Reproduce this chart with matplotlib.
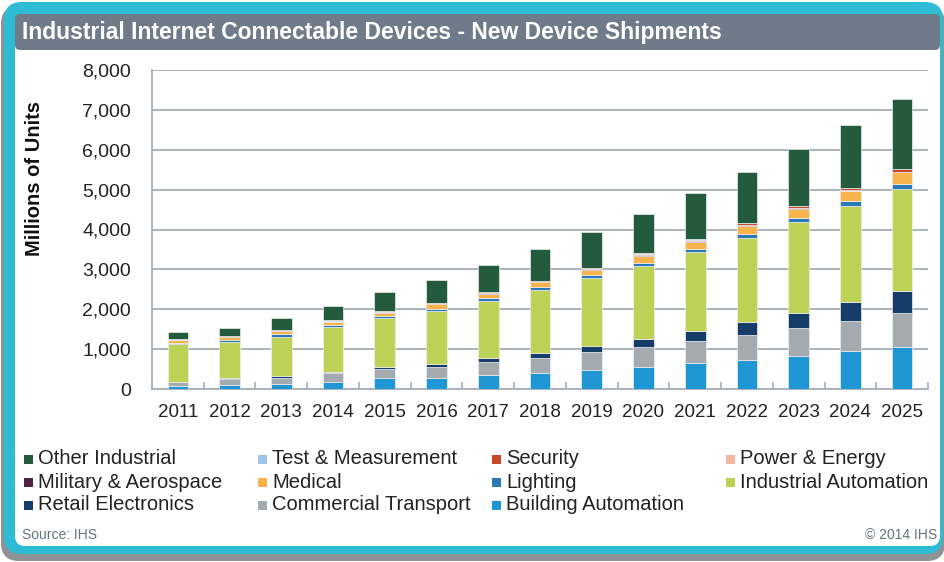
import matplotlib
matplotlib.use("Agg")
import matplotlib.pyplot as plt
from matplotlib.patches import FancyBboxPatch, Rectangle
from matplotlib.ticker import FuncFormatter
import numpy as np

plt.rcParams["font.family"] = ["Liberation Sans", "DejaVu Sans"]

# ---- data: new device shipments, millions of units ----
years = ["2011", "2012", "2013", "2014", "2015", "2016", "2017", "2018",
         "2019", "2020", "2021", "2022", "2023", "2024", "2025"]

building_automation = [70, 100, 128, 185, 268, 280, 351, 400, 484, 551, 644, 727, 835, 945, 1053]
commercial_transport = [100, 150, 158, 210, 233, 280, 326, 385, 435, 494, 551, 626, 695, 767, 852]
retail_electronics = [10, 15, 40, 42, 42, 67, 92, 125, 159, 200, 259, 317, 382, 460, 543]
industrial_automation = [940, 912, 985, 1120, 1228, 1320, 1436, 1571, 1696, 1838, 1972, 2122, 2268, 2414, 2565]
lighting = [42, 50, 60, 50, 67, 67, 75, 67, 75, 83, 75, 93, 100, 117, 125]
medical = [58, 67, 75, 75, 58, 108, 108, 125, 141, 175, 191, 215, 240, 260, 292]
military_aerospace = [5, 5, 6, 6, 7, 7, 8, 8, 9, 9, 10, 10, 11, 11, 12]
power_energy = [4, 5, 5, 6, 6, 7, 7, 8, 8, 9, 9, 10, 10, 11, 12]
security = [10, 15, 18, 20, 33, 20, 25, 25, 30, 35, 35, 40, 45, 50, 60]
test_measurement = [3, 3, 4, 4, 4, 5, 5, 5, 6, 6, 6, 7, 7, 8, 8]
other_industrial = [190, 214, 293, 370, 477, 563, 667, 781, 884, 994, 1152, 1279, 1422, 1590, 1746]

# stacking order, bottom to top
series = [
    ("Building Automation", building_automation, "#1F97D4"),
    ("Commercial Transport", commercial_transport, "#A3ABB1"),
    ("Retail Electronics", retail_electronics, "#163C69"),
    ("Industrial Automation", industrial_automation, "#BED257"),
    ("Lighting", lighting, "#2A79B6"),
    ("Medical", medical, "#F8B44C"),
    ("Military & Aerospace", military_aerospace, "#4A2347"),
    ("Power & Energy", power_energy, "#F3B8A4"),
    ("Security", security, "#C8472B"),
    ("Test & Measurement", test_measurement, "#9EC4E7"),
    ("Other Industrial", other_industrial, "#235B3C"),
]

legend_order = ["Other Industrial", "Test & Measurement", "Security", "Power & Energy",
                "Military & Aerospace", "Medical", "Lighting", "Industrial Automation",
                "Retail Electronics", "Commercial Transport", "Building Automation"]

title = "Industrial Internet Connectable Devices - New Device Shipments"

W, H = 944, 562
fig = plt.figure(figsize=(W / 100, H / 100), dpi=100)
fig.patch.set_facecolor("white")

# ---- frame (pixel coordinates) ----
bg = fig.add_axes([0, 0, 1, 1], zorder=0)
bg.set_xlim(0, W)
bg.set_ylim(H, 0)
bg.axis("off")
bg.add_patch(FancyBboxPatch((1, 6), 944, 555, boxstyle="round,pad=0,rounding_size=18",
                            fc="#8F9396", ec="none"))
bg.add_patch(FancyBboxPatch((4, 2), 939, 552, boxstyle="round,pad=0,rounding_size=18",
                            fc="#2DBCD4", ec="none"))
bg.add_patch(FancyBboxPatch((15, 14), 925, 532, boxstyle="round,pad=0,rounding_size=10",
                            fc="white", ec="none"))
bg.add_patch(FancyBboxPatch((15, 14), 925, 36, boxstyle="round,pad=0,rounding_size=5",
                            fc="#6F7B88", ec="none"))
bg.text(22, 33, title, color="white", fontsize=16.5, fontweight="bold", va="center", ha="left")

# ---- chart ----
ax = fig.add_axes([152 / W, 1 - 389 / H, (928 - 152) / W, (389 - 70) / H], zorder=1)
x = np.arange(len(years))
bottom = np.zeros(len(years))
for name, vals, col in series:
    v = np.array(vals, dtype=float)
    ax.bar(x, v, width=0.4, bottom=bottom, color=col, edgecolor="#EEEEEE",
           linewidth=0.5, label=name, zorder=3)
    bottom += v

grid_c = "#A7AEB6"
ax.set_xlim(-0.5, len(years) - 0.5)
ax.set_ylim(0, 8000)
ax.set_yticks(np.arange(0, 8001, 1000))
ax.yaxis.set_major_formatter(FuncFormatter(lambda v, p: f"{int(v):,}"))
ax.yaxis.grid(True, color=grid_c, linewidth=1.3)
ax.set_axisbelow(True)
ax.set_xticks(x)
ax.set_xticklabels(years)
ax.set_xticks(np.arange(-0.5, len(years), 1.0), minor=True)
ax.tick_params(axis="x", which="major", length=0, pad=11, labelsize=13.5, labelcolor="#222222")
ax.tick_params(axis="x", which="minor", direction="in", length=5, width=1.2, color=grid_c)
ax.tick_params(axis="y", length=0, pad=15, labelsize=14, labelcolor="#222222")
for s in ("top", "right"):
    ax.spines[s].set_visible(False)
for s in ("left", "bottom"):
    ax.spines[s].set_color(grid_c)
    ax.spines[s].set_linewidth(1.3)
ax.patch.set_alpha(0)

bg.text(35, 178, "Millions of Units", rotation=90, fontsize=14.5, fontweight="bold",
        ha="center", va="center", color="#111111")

# ---- legend, four fixed-width columns ----
colors = {name: col for name, _, col in series}
for i, name in enumerate(legend_order):
    r, c = divmod(i, 4)
    lx = 24 + 234 * c
    ly = 459 + 23 * r
    bg.add_patch(Rectangle((lx, ly - 4.5), 9, 9, fc=colors[name], ec="none"))
    bg.text(lx + 14, ly, name, fontsize=14.5, va="center", ha="left", color="#222222")

bg.text(22, 535, "Source: IHS", fontsize=10, color="#66727F", va="center", ha="left")
bg.text(937, 535, "\u00a9 2014 IHS", fontsize=10, color="#66727F", va="center", ha="right")

fig.savefig("out.png", dpi=100)
